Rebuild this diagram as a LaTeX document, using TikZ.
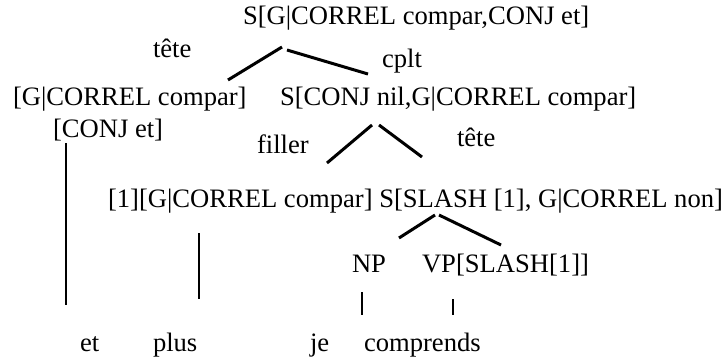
\documentclass[tikz,border=0pt]{standalone}
\usepackage{fontspec}
\setmainfont{Liberation Serif}
\begin{document}
\begin{tikzpicture}[x=1pt,y=-1pt,
  lbl/.style={anchor=base west,inner sep=0pt,outer sep=0pt,font=\fontsize{26.6}{31}\selectfont},
  br/.style={line width=3pt},
  vt/.style={line width=2pt}]
\useasboundingbox (0,0) rectangle (725,359);
% texts
\node[lbl] (top) at (243,24) {S[G|CORREL compar,CONJ et]};
\node[lbl] (tete1) at (153,57) {tête};
\node[lbl] (cplt) at (382,67) {cplt};
\node[lbl] (gcorrel) at (13,105) {[G|CORREL compar]};
\node[lbl] (conjet) at (53,137) {[CONJ et]};
\node[lbl] (sconj) at (280,105) {S[CONJ nil,G|CORREL compar]};
\node[lbl] (filler) at (257,153) {filler};
\node[lbl] (tete2) at (457,146) {tête};
\node[lbl] (mid) at (108,207) {[1][G|CORREL compar] S[SLASH [1], G|CORREL non]};
\node[lbl] (np) at (352,272) {NP};
\node[lbl] (vp) at (422,272) {VP[SLASH[1]]};
\node[lbl] (et) at (80,351) {et};
\node[lbl] (plus) at (153,351) {plus};
\node[lbl] (je) at (310,351) {je};
\node[lbl] (comprends) at (364,351) {comprends};
% connector end points
\coordinate (a1) at (228,80);  \coordinate (a2) at (282,47);
\coordinate (b1) at (287,50);  \coordinate (b2) at (368,74);
\coordinate (c1) at (327,163); \coordinate (c2) at (372,125);
\coordinate (d1) at (379,125); \coordinate (d2) at (422,157);
\coordinate (e1) at (399,238); \coordinate (e2) at (435,215);
\coordinate (f1) at (439,215); \coordinate (f2) at (501,245);
\coordinate (g1) at (66,143);  \coordinate (g2) at (66,305);
\coordinate (h1) at (199,233); \coordinate (h2) at (199,299);
\coordinate (i1) at (362,292); \coordinate (i2) at (362,315);
\coordinate (j1) at (453,299); \coordinate (j2) at (453,315);
\draw[br] (a1) -- (a2);
\draw[br] (b1) -- (b2);
\draw[br] (c1) -- (c2);
\draw[br] (d1) -- (d2);
\draw[br] (e1) -- (e2);
\draw[br] (f1) -- (f2);
\draw[vt] (g1) -- (g2);
\draw[vt] (h1) -- (h2);
\draw[vt] (i1) -- (i2);
\draw[vt] (j1) -- (j2);
\end{tikzpicture}
\end{document}
